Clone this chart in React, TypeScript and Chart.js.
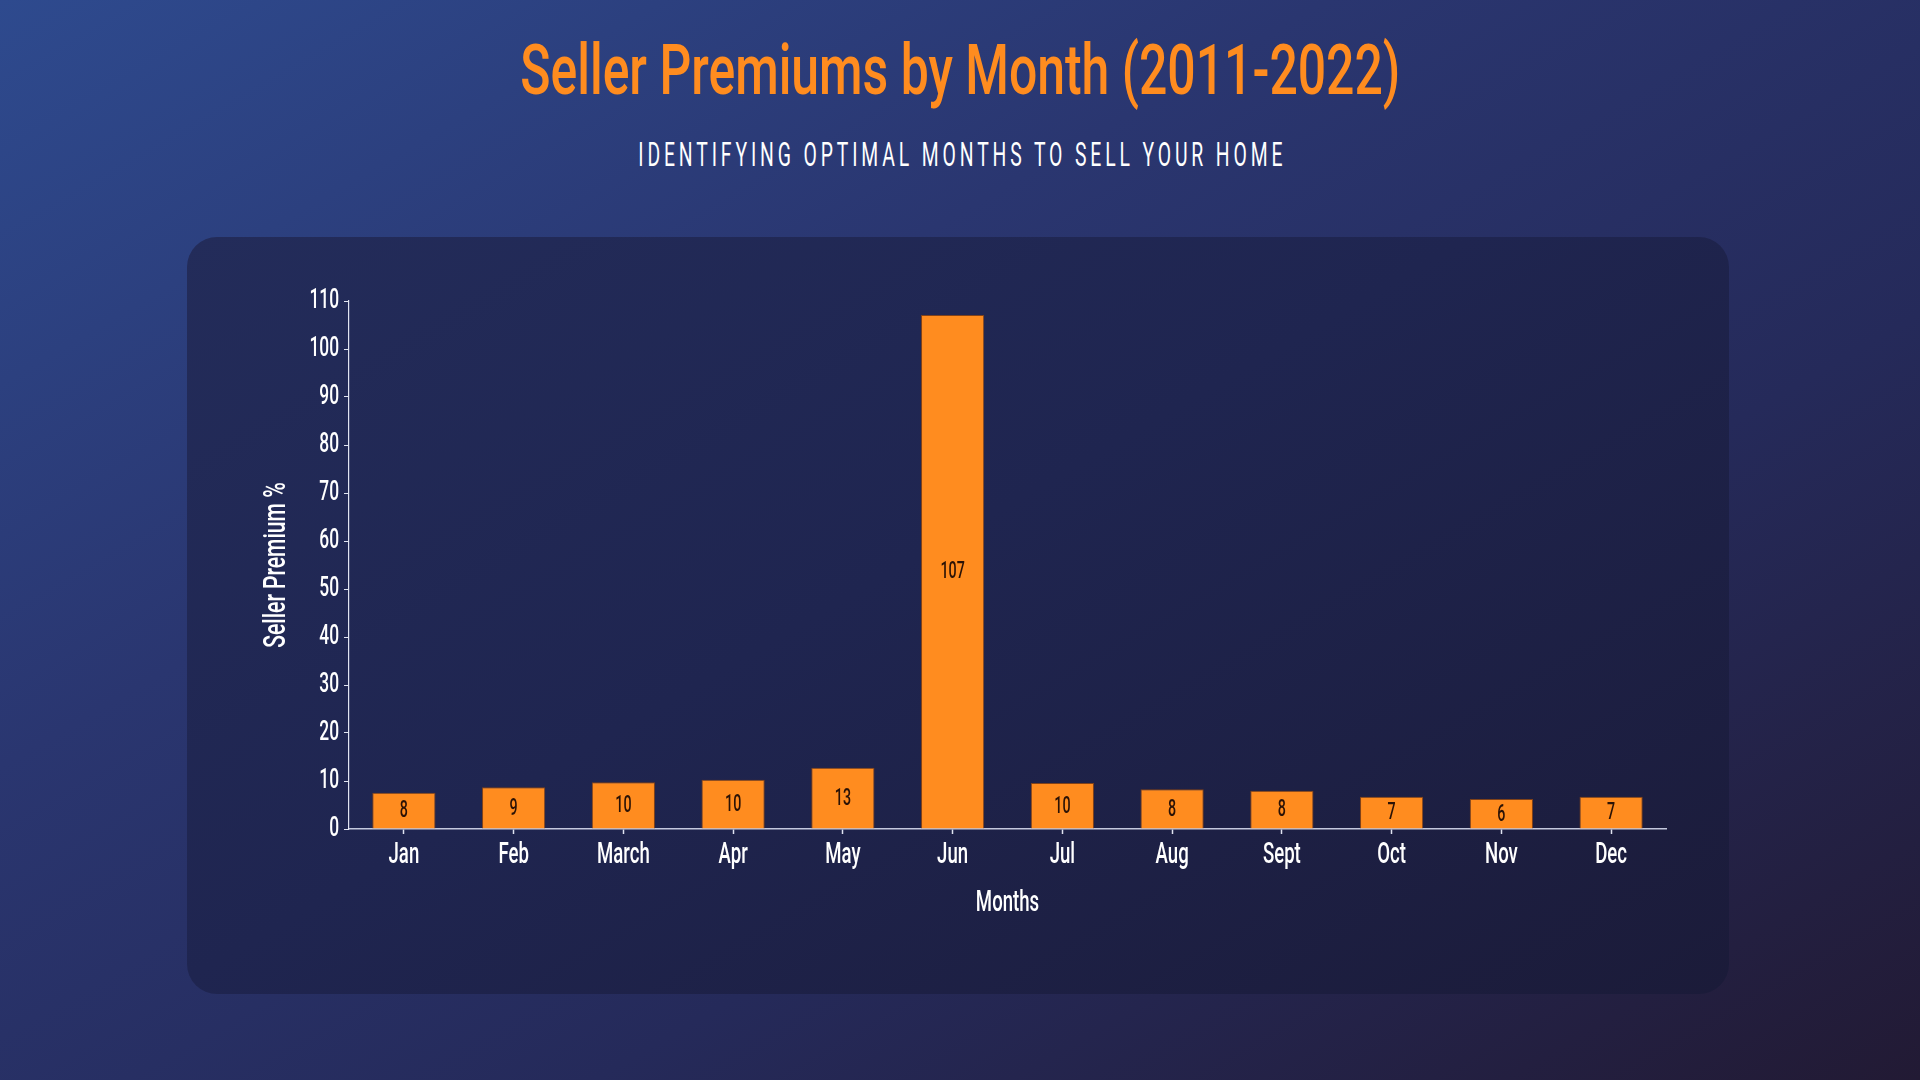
import React, { useEffect, useLayoutEffect, useRef } from 'react';
import { Chart, registerables } from 'chart.js';

Chart.register(...registerables);

// ---- data ----
const months = ['Jan', 'Feb', 'March', 'Apr', 'May', 'Jun', 'Jul', 'Aug', 'Sept', 'Oct', 'Nov', 'Dec'];
const sellerPremium = [7.56, 8.68, 9.72, 10.28, 12.78, 107.1, 9.58, 8.27, 7.98, 6.73, 6.25, 6.73];
const yMin = 0;
const yMax = 110;
const yStep = 10;
const titleText = 'Seller Premiums by Month (2011-2022)';
const subtitleText = 'IDENTIFYING OPTIMAL MONTHS TO SELL YOUR HOME';
const xAxisTitle = 'Months';
const yAxisTitle = 'Seller Premium %';

// ---- styles ----
const ORANGE = '#FF8C1F';
const WHITE = '#FFFFFF';
const LABEL_DARK = '#2a1206';
const FONT = 'Roboto';
const SQUEEZE = 0.62; // horizontal condensing of canvas text
const SQUEEZE_YTITLE = 0.68;
const YTITLE_SIZE = 31;

function FitText(props: { text: string; top: number; width: number; style: React.CSSProperties }) {
  const ref = useRef<HTMLSpanElement>(null);
  useLayoutEffect(() => {
    const el = ref.current;
    if (!el) return;
    const fit = () => {
      el.style.transform = 'none';
      const w = el.getBoundingClientRect().width;
      if (w > 0) el.style.transform = `scaleX(${props.width / w})`;
    };
    fit();
    const fonts = (document as any).fonts;
    if (fonts && fonts.ready) fonts.ready.then(fit);
  }, [props.text, props.width]);
  return (
    <div
      style={{
        position: 'absolute',
        left: 0,
        right: 0,
        top: props.top,
        textAlign: 'center',
        lineHeight: 1,
        whiteSpace: 'nowrap',
      }}
    >
      <span ref={ref} style={{ display: 'inline-block', transformOrigin: 'center', ...props.style }}>
        {props.text}
      </span>
    </div>
  );
}

const barLabelPlugin = {
  id: 'barLabels',
  afterDatasetsDraw(chart: any) {
    const ctx = chart.ctx;
    const meta = chart.getDatasetMeta(0);
    const data = chart.data.datasets[0].data as number[];
    ctx.save();
    ctx.font = `500 23px ${FONT}`;
    ctx.fillStyle = LABEL_DARK;
    ctx.textAlign = 'center';
    ctx.textBaseline = 'middle';
    meta.data.forEach((bar: any, i: number) => {
      const { x, y, base } = bar.getProps(['x', 'y', 'base'], true);
      ctx.fillText(String(Math.round(data[i])), x, (y + base) / 2 + 1);
    });
    ctx.restore();
  },
};

function BarChart() {
  const canvasRef = useRef<HTMLCanvasElement>(null);
  useEffect(() => {
    const canvas = canvasRef.current;
    if (!canvas) return;
    const ctx = canvas.getContext('2d') as any;
    // condensed text rendering
    const origFill = ctx.fillText.bind(ctx);
    const origMeasure = ctx.measureText.bind(ctx);
    const squeezeFor = () => (String(ctx.font).indexOf(`${YTITLE_SIZE}px`) >= 0 ? SQUEEZE_YTITLE : SQUEEZE);
    ctx.fillText = (t: string, x: number, y: number) => {
      const s = squeezeFor();
      ctx.save();
      ctx.translate(x, y);
      ctx.scale(s, 1);
      origFill(t, 0, 0);
      ctx.restore();
    };
    ctx.measureText = (t: string) => {
      const s = squeezeFor();
      const m = origMeasure(t);
      return {
        width: m.width * s,
        actualBoundingBoxAscent: m.actualBoundingBoxAscent,
        actualBoundingBoxDescent: m.actualBoundingBoxDescent,
        actualBoundingBoxLeft: m.actualBoundingBoxLeft * s,
        actualBoundingBoxRight: m.actualBoundingBoxRight * s,
      };
    };

    const chart = new Chart(canvas, {
      type: 'bar',
      data: {
        labels: months,
        datasets: [
          {
            label: yAxisTitle,
            data: sellerPremium,
            backgroundColor: ORANGE,
            borderColor: 'rgba(140,70,20,0.9)',
            borderWidth: 1,
            categoryPercentage: 0.8,
            barPercentage: 0.72,
          },
        ],
      },
      options: {
        animation: false,
        responsive: true,
        maintainAspectRatio: false,
        layout: { padding: { left: 0, right: 63, top: 64, bottom: 0 } },
        plugins: {
          legend: { display: false },
          tooltip: { enabled: false },
          title: { display: false },
        },
        scales: {
          x: {
            grid: {
              display: true,
              offset: false,
              drawOnChartArea: false,
              drawTicks: true,
              tickLength: 5,
              tickWidth: 1.5,
              color: 'rgba(235,238,250,0.95)',
            },
            border: { display: true, color: 'rgba(205,210,230,0.95)', width: 1.5 },
            ticks: { color: WHITE, font: { family: FONT, size: 30, weight: '500' }, padding: 3, maxRotation: 0 },
            title: {
              display: true,
              text: xAxisTitle,
              color: WHITE,
              font: { family: FONT, size: 30, weight: '500' },
              padding: { top: 0, bottom: 73 },
            },
            afterFit: (s: any) => {
              s.height = 165;
            },
          },
          y: {
            min: yMin,
            max: yMax,
            grid: {
              display: true,
              drawOnChartArea: false,
              drawTicks: true,
              tickLength: 5,
              color: 'rgba(235,238,250,0.95)',
            },
            border: { display: true, color: 'rgba(235,238,250,0.95)', width: 1.2 },
            ticks: { stepSize: yStep, color: WHITE, font: { family: FONT, size: 28, weight: '500' }, padding: 5 },
            title: {
              display: true,
              text: yAxisTitle,
              color: WHITE,
              font: { family: FONT, size: YTITLE_SIZE, weight: '500' },
              padding: { top: 90 - (YTITLE_SIZE * 1.2) / 2, bottom: 0 },
            },
            afterFit: (s: any) => {
              s.width = 162;
            },
          },
        },
      },
      plugins: [barLabelPlugin],
    } as any);
    return () => chart.destroy();
  }, []);
  return <canvas ref={canvasRef} />;
}

export default function App() {
  return (
    <div
      style={{
        position: 'fixed',
        left: 0,
        top: 0,
        width: 1920,
        height: 1080,
        overflow: 'hidden',
        background: 'linear-gradient(150deg, #2e4a8e 0%, #2a3670 35%, #252a5a 65%, #221a34 100%)',
        fontFamily: FONT,
      }}
    >
      <FitText
        text={titleText}
        top={35}
        width={880}
        style={{ fontSize: 70, fontWeight: 500, color: ORANGE }}
      />
      <FitText
        text={subtitleText}
        top={137}
        width={652}
        style={{ fontSize: 34, fontWeight: 400, color: WHITE, letterSpacing: '0.2em', paddingLeft: '0.2em' }}
      />
      <div
        style={{
          position: 'absolute',
          left: 187,
          top: 237,
          width: 1542,
          height: 757,
          borderRadius: 30,
          background: 'linear-gradient(150deg, #232c5a 0%, #1f2550 45%, #1b1b39 100%)',
          overflow: 'hidden',
        }}
      >
        <div style={{ position: 'relative', width: 1542, height: 757 }}>
          <BarChart />
        </div>
      </div>
    </div>
  );
}
